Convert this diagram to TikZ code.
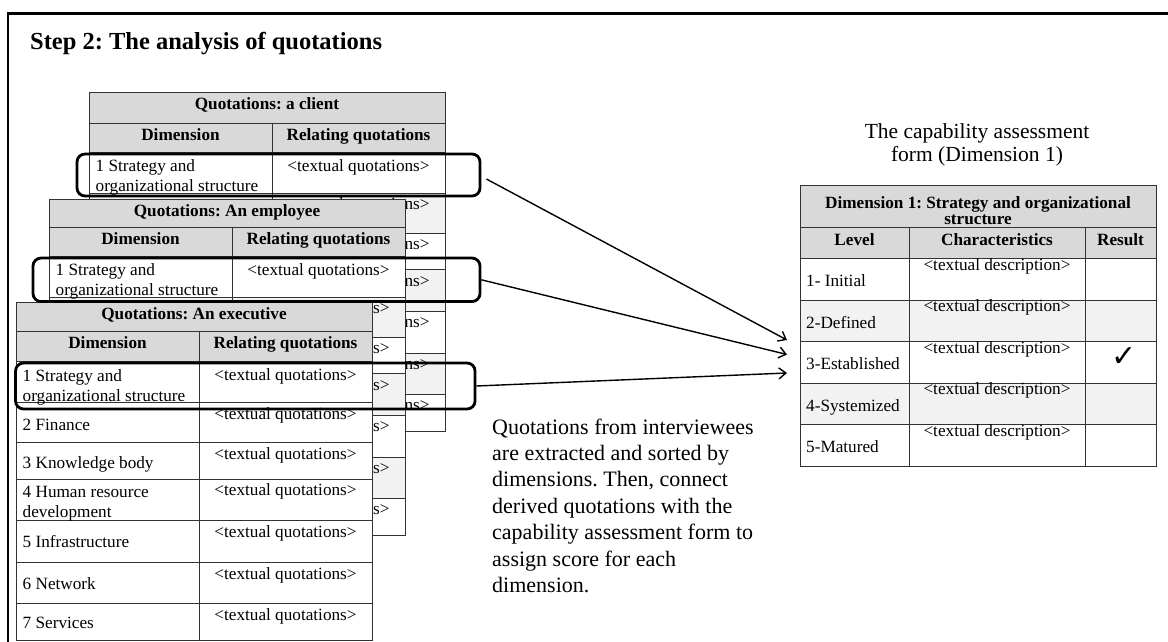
\documentclass[tikz,border=0pt]{standalone}
\usepackage{fontspec}
\setmainfont{Liberation Serif}
\newfontfamily\symfont{DejaVu Sans}
\usetikzlibrary{arrows.meta}
\frenchspacing

\tikzset{
  rule/.style={draw=black!80, line width=1pt},
  headfill/.style={fill=black!15},
  bandfill/.style={fill=black!5},
  nofill/.style={fill=white},
  celltext/.style={font=\fontsize{17.2}{20}\selectfont, inner sep=0pt, anchor=base},
  headtext/.style={celltext, font=\fontsize{17.2}{20}\selectfont\bfseries},
  pick/.style={draw=black, line width=2.8pt, rounded corners=8pt, inner sep=0pt},
  link/.style={line width=1.4pt, -{Straight Barb[length=7pt,width=11pt]}},
}

% one body row of a quotation table:
% #1 index, #2 row top, #3 offset of the label's last baseline, #4 quote baseline offset, #5 label
\newcommand{\qrow}[5]{%
  \node[celltext, anchor=base west, align=left] (dim#1) at (6.5,\hb+#2+#3) {#5};
  \node[celltext] (quo#1) at (269.5,\hb+#2+#4) {<textual quotations>};
}

% quotation table: #1 prefix, #2 left, #3 top, #4 title row height,
% #5 header row height, #6 title, #7 band style
\newcommand{\qtable}[7]{%
  \begin{scope}[shift={(#2,#3)}, name prefix=#1-]
    \pgfmathsetmacro\ta{#4}
    \pgfmathsetmacro\hb{#4+#5}
    \path[headfill] (0,0) rectangle (356,\hb);
    \path[nofill] (0,\hb) rectangle (356,\hb+279);
    \path[#7] (0,\hb+41) rectangle (356,\hb+81);
    \path[#7] (0,\hb+117.5) rectangle (356,\hb+159);
    \path[#7] (0,\hb+201) rectangle (356,\hb+242);
    \draw[rule] (0,0) rectangle (356,\hb+279);
    \draw[rule] (0,\ta) -- (356,\ta);
    \foreach \yy in {0,41,81,117.5,159,201,242}
      \draw[rule] (0,\hb+\yy) -- (356,\hb+\yy);
    \draw[rule] (183,\ta) -- (183,\hb+279);
    \node[headtext] (title) at (178,17) {#6};
    \node[headtext] (hdim) at (91.5,\ta+17) {Dimension};
    \node[headtext] (hrel) at (269.5,\ta+17) {Relating quotations};
    \qrow{1}{0}{39.5}{19}{1 Strategy and\\organizational structure}
    \qrow{2}{41}{28}{16.5}{2 Finance}
    \qrow{3}{81}{25.5}{16.5}{3 Knowledge body}
    \qrow{4}{117.5}{38}{16.5}{4 Human resource\\development}
    \qrow{5}{159}{27}{16.5}{5 Infrastructure}
    \qrow{6}{201}{26.5}{16.5}{6 Network}
    \qrow{7}{242}{24.5}{16.5}{7 Services}
  \end{scope}}

\begin{document}
\begin{tikzpicture}[x=1pt, y=-1pt]
  \useasboundingbox[fill=white] (0,0) rectangle (1168,642);
  \clip (0,0) rectangle (1168,642);

  % outer frame
  \draw[line width=2.6pt] (8,13.5) rectangle (1190,670);

  % heading
  \node[anchor=base west, inner sep=0pt, font=\fontsize{24.5}{28}\selectfont\bfseries]
    (heading) at (30,50) {Step 2: The analysis of quotations};

  % stacked quotation tables, back to front
  \qtable{client}{89}{93}{30}{29}{Quotations: a client}{bandfill}
  \qtable{employee}{49}{199.3}{28}{28.7}{Quotations: An employee}{bandfill}
  \qtable{executive}{16}{302}{29.5}{30}{Quotations: An executive}{nofill}

  % highlighted rows
  \node[pick, minimum width=403pt, minimum height=42pt] (box1) at (278.5,175) {};
  \node[pick, minimum width=447pt, minimum height=43.5pt] (box2) at (256.5,279.8) {};
  \node[pick, minimum width=459.5pt, minimum height=46pt] (box3) at (245.3,386) {};

  % capability assessment form
  \node[anchor=base, inner sep=0pt, align=center, font=\fontsize{21.5}{23}\selectfont]
    (formcap) at (977,161) {The capability assessment\\form (Dimension 1)};
  \begin{scope}[name prefix=form-]
    \path[headfill] (800,185) rectangle (1156,258.5);
    \path[nofill] (800,258.5) rectangle (1156,466);
    \path[bandfill] (800,300) rectangle (1156,341.5);
    \path[bandfill] (800,383) rectangle (1156,424.5);
    \draw[rule] (800,185) rectangle (1156,466);
    \foreach \yy in {227.5,258.5,300,341.5,383,424.5}
      \draw[rule] (800,\yy) -- (1156,\yy);
    \draw[rule] (909,227.5) -- (909,466);
    \draw[rule] (1085,227.5) -- (1085,466);
    \node[headtext, align=center, font=\fontsize{17.2}{15.5}\selectfont\bfseries]
      (title) at (978,224) {Dimension 1: Strategy and organizational\\structure};
    \node[headtext] (hlevel) at (854.5,245) {Level};
    \node[headtext] (hchar) at (997,245) {Characteristics};
    \node[headtext] (hres) at (1120.5,245) {Result};
    \foreach \i/\top/\lab in {1/258.5/1- Initial, 2/300/2-Defined, 3/341.5/3-Established,
                              4/383/4-Systemized, 5/424.5/5-Matured} {
      \node[celltext, anchor=base west] (lvl\i) at (806,\top+28.3) {\lab};
      \node[celltext] (desc\i) at (997,\top+11.5) {<textual description>};
    }
    \node[font=\symfont\fontsize{30}{30}\selectfont, inner sep=0pt] (tick) at (1124,357) {✓};
  \end{scope}

  % connectors into the form
  \coordinate (in1) at (787,340);
  \coordinate (in2) at (787,354.5);
  \coordinate (in3) at (787,373);
  \draw[link] ([xshift=5pt,yshift=-4pt]box1.east) -- (in1);
  \draw[link] (box2.east) -- (in2);
  \draw[link] (box3.east) -- (in3);

  % explanatory note
  \node[anchor=base west, inner sep=0pt, align=left, font=\fontsize{22}{26.4}\selectfont]
    (note) at (492,592.4) {Quotations from interviewees\\are extracted and sorted by\\dimensions. Then, connect\\derived quotations with the\\capability assessment form to\\assign score for each\\dimension.};
\end{tikzpicture}
\end{document}
